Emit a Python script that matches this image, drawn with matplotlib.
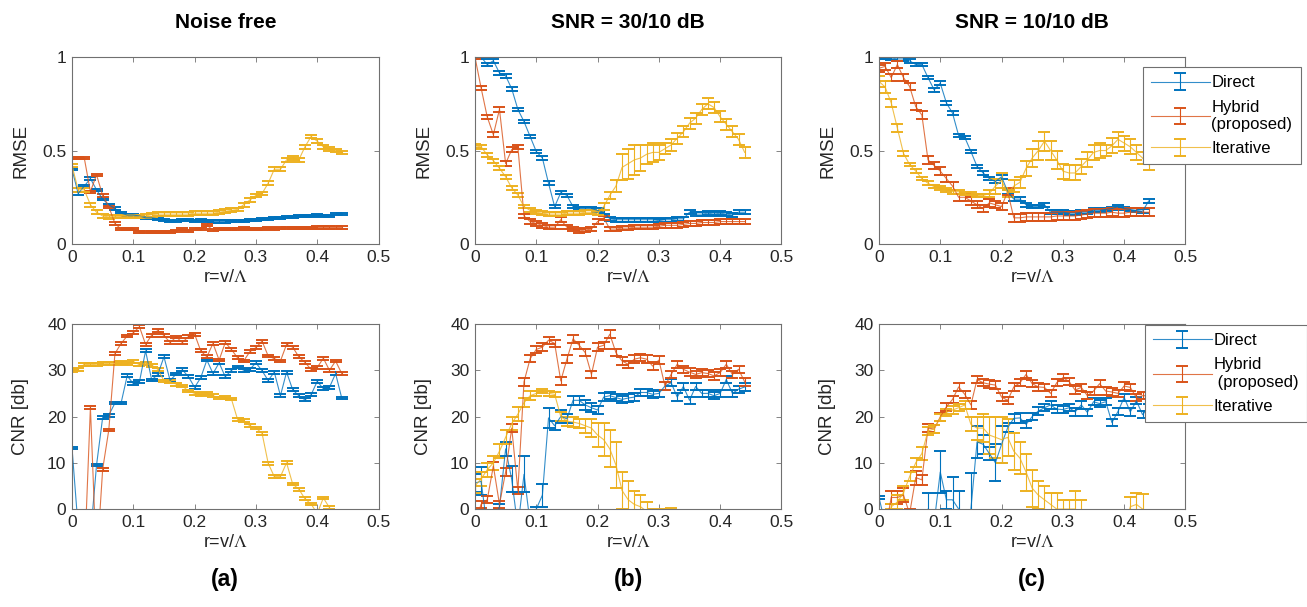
import numpy as np
import matplotlib.pyplot as plt

plt.rcParams['font.family'] = ['Liberation Sans', 'DejaVu Sans']
plt.rcParams['mathtext.fontset'] = 'stix'

# Sampling of r = v / Lambda
r_values = [0.00, 0.01, 0.02, 0.03, 0.04, 0.05, 0.06, 0.07, 0.08, 0.09,
            0.10, 0.11, 0.12, 0.13, 0.14, 0.15, 0.16, 0.17, 0.18, 0.19,
            0.20, 0.21, 0.22, 0.23, 0.24, 0.25, 0.26, 0.27, 0.28, 0.29,
            0.30, 0.31, 0.32, 0.33, 0.34, 0.35, 0.36, 0.37, 0.38, 0.39,
            0.40, 0.41, 0.42, 0.43, 0.44]

column_titles = ['Noise free', 'SNR = 30/10 dB', 'SNR = 10/10 dB']
panel_labels = ['(a)', '(b)', '(c)']
method_names_rmse = ['Direct', 'Hybrid\n(proposed)', 'Iterative']
method_names_cnr = ['Direct', 'Hybrid\n (proposed)', 'Iterative']
colors = ['#0072BD', '#D95319', '#EDB120']

# ---------------- RMSE, noise free ----------------
rmse_a_direct = [0.40, 0.27, 0.31, 0.35, 0.29, 0.24, 0.21, 0.19, 0.165, 0.155,
                 0.155, 0.15, 0.14, 0.14, 0.135, 0.13, 0.125, 0.125, 0.13, 0.13,
                 0.125, 0.13, 0.125, 0.12, 0.12, 0.12, 0.125, 0.125, 0.125, 0.13,
                 0.13, 0.135, 0.135, 0.14, 0.14, 0.145, 0.145, 0.15, 0.15, 0.15,
                 0.155, 0.15, 0.15, 0.16, 0.16]
rmse_a_hybrid = [0.46, 0.46, 0.46, 0.28, 0.37, 0.26, 0.20, 0.11, 0.08, 0.08,
                 0.08, 0.066, 0.063, 0.063, 0.063, 0.063, 0.063, 0.07, 0.08, 0.07,
                 0.08, 0.08, 0.10, 0.075, 0.08, 0.08, 0.08, 0.08, 0.085, 0.08,
                 0.08, 0.08, 0.085, 0.08, 0.085, 0.085, 0.085, 0.085, 0.085, 0.085,
                 0.088, 0.088, 0.088, 0.088, 0.088]
rmse_a_iterative = [0.42, 0.29, 0.29, 0.21, 0.17, 0.15, 0.145, 0.147, 0.147, 0.147,
                    0.147, 0.147, 0.15, 0.157, 0.16, 0.16, 0.16, 0.16, 0.16, 0.16,
                    0.165, 0.165, 0.165, 0.165, 0.17, 0.175, 0.18, 0.185, 0.21, 0.235,
                    0.26, 0.27, 0.325, 0.40, 0.40, 0.45, 0.46, 0.45, 0.52, 0.575,
                    0.55, 0.52, 0.51, 0.50, 0.49]
rmse_a_err = [0.006, 0.006, 0.01]

# ---------------- RMSE, SNR = 30/10 dB ----------------
rmse_b_direct = [1.0, 1.0, 0.96, 0.98, 0.915, 0.90, 0.83, 0.72, 0.655, 0.575,
                 0.495, 0.46, 0.325, 0.20, 0.275, 0.26, 0.20, 0.19, 0.19, 0.19,
                 0.18, 0.17, 0.135, 0.13, 0.13, 0.13, 0.13, 0.13, 0.13, 0.13,
                 0.125, 0.13, 0.13, 0.135, 0.135, 0.17, 0.16, 0.16, 0.165, 0.16,
                 0.165, 0.16, 0.155, 0.17, 0.17]
rmse_b_hybrid = [1.0, 0.835, 0.68, 0.585, 0.72, 0.43, 0.505, 0.52, 0.15, 0.12,
                 0.11, 0.10, 0.09, 0.09, 0.13, 0.09, 0.08, 0.07, 0.075, 0.08,
                 0.12, 0.14, 0.08, 0.08, 0.085, 0.085, 0.09, 0.09, 0.09, 0.09,
                 0.095, 0.10, 0.10, 0.10, 0.105, 0.11, 0.11, 0.115, 0.115, 0.115,
                 0.12, 0.12, 0.12, 0.12, 0.12]
rmse_b_iterative = [0.525, 0.52, 0.477, 0.446, 0.405, 0.36, 0.30, 0.262, 0.20, 0.18,
                    0.17, 0.165, 0.16, 0.16, 0.16, 0.165, 0.165, 0.165, 0.17, 0.17,
                    0.165, 0.20, 0.26, 0.31, 0.41, 0.43, 0.45, 0.46, 0.48, 0.49,
                    0.49, 0.51, 0.53, 0.566, 0.60, 0.646, 0.673, 0.72, 0.75, 0.73,
                    0.68, 0.64, 0.60, 0.56, 0.49]
rmse_b_iterative_err = [0.01, 0.01, 0.01, 0.01, 0.01, 0.01, 0.01, 0.01, 0.01, 0.01,
                        0.01, 0.01, 0.01, 0.01, 0.01, 0.01, 0.01, 0.01, 0.01, 0.01,
                        0.01, 0.02, 0.02, 0.03, 0.07, 0.08, 0.08, 0.07, 0.05, 0.05,
                        0.04, 0.03, 0.03, 0.03, 0.03, 0.03, 0.03, 0.03, 0.03, 0.03,
                        0.03, 0.03, 0.03, 0.03, 0.03]
rmse_b_err = [0.01, 0.012, rmse_b_iterative_err]

# ---------------- RMSE, SNR = 10/10 dB ----------------
rmse_c_direct = [1.0, 1.0, 0.995, 0.99, 0.99, 0.98, 0.96, 0.96, 0.89, 0.825,
                 0.86, 0.755, 0.70, 0.58, 0.57, 0.495, 0.415, 0.38, 0.35, 0.334,
                 0.36, 0.28, 0.24, 0.24, 0.21, 0.20, 0.20, 0.21, 0.17, 0.17,
                 0.17, 0.165, 0.165, 0.17, 0.17, 0.18, 0.18, 0.185, 0.19, 0.20,
                 0.19, 0.185, 0.18, 0.175, 0.23]
rmse_c_hybrid = [0.94, 0.95, 0.89, 0.96, 0.89, 0.843, 0.735, 0.69, 0.45, 0.42,
                 0.39, 0.35, 0.31, 0.25, 0.25, 0.23, 0.21, 0.19, 0.22, 0.21,
                 0.20, 0.28, 0.14, 0.14, 0.145, 0.145, 0.145, 0.145, 0.145, 0.15,
                 0.15, 0.15, 0.15, 0.155, 0.16, 0.165, 0.165, 0.165, 0.17, 0.165,
                 0.165, 0.17, 0.17, 0.17, 0.17]
rmse_c_iterative = [0.87, 0.84, 0.755, 0.62, 0.485, 0.425, 0.39, 0.35, 0.325, 0.307,
                    0.30, 0.29, 0.28, 0.28, 0.27, 0.27, 0.26, 0.26, 0.27, 0.31,
                    0.34, 0.27, 0.31, 0.33, 0.405, 0.46, 0.50, 0.55, 0.50, 0.45,
                    0.39, 0.38, 0.38, 0.415, 0.45, 0.49, 0.50, 0.50, 0.525, 0.56,
                    0.54, 0.52, 0.49, 0.46, 0.425]
rmse_c_iterative_err = [0.03, 0.03, 0.02, 0.02, 0.015, 0.01, 0.01, 0.01, 0.01, 0.01,
                        0.01, 0.01, 0.01, 0.01, 0.01, 0.01, 0.01, 0.01, 0.02, 0.04,
                        0.04, 0.02, 0.03, 0.03, 0.04, 0.05, 0.05, 0.05, 0.05, 0.05,
                        0.04, 0.04, 0.04, 0.04, 0.04, 0.04, 0.04, 0.03, 0.04, 0.04,
                        0.04, 0.04, 0.04, 0.03, 0.03]
rmse_c_err = [0.01, 0.02, rmse_c_iterative_err]

# ---------------- CNR, noise free ----------------
cnr_a_direct = [13.2, -4, -12, -6, 9.5, 19.8, 20.3, 22.9, 22.9, 28.8,
                27.1, 27.5, 34.2, 27.9, 29.1, 32.9, 27.8, 29.2, 30.1, 28.6,
                26.3, 28.4, 32.2, 29.3, 31.6, 28.6, 30.0, 30.7, 30.0, 30.2,
                31.6, 29.9, 27.8, 29.6, 24.5, 29.6, 25.8, 24.5, 23.6, 24.7,
                27.6, 26.0, 26.3, 29.3, 24.0]
cnr_a_hybrid = [-20, -20, -12, 22, -12, 8.6, 17.1, 33.6, 35.8, 37.4,
                38.1, 39.4, 35.6, 37.6, 38.6, 37.5, 36.0, 37.2, 36.0, 37.3,
                37.8, 34.2, 32.9, 35.8, 32.2, 36.0, 34.5, 32.7, 32.0, 34.0,
                34.9, 36.3, 33.1, 32.5, 32.0, 35.6, 35.0, 32.9, 31.7, 30.2,
                30.6, 32.6, 30.0, 32.0, 29.3]
cnr_a_iterative = [30.0, 30.2, 31.3, 31.2, 31.3, 31.4, 31.5, 31.5, 31.6, 31.5,
                   31.9, 31.2, 31.5, 31.1, 30.2, 27.7, 27.5, 27.0, 26.6, 25.5,
                   25.0, 24.7, 24.9, 24.5, 24.0, 24.1, 23.8, 19.4, 19.1, 18.0,
                   17.5, 16.4, 9.9, 7.0, 7.0, 10.0, 5.4, 4.3, 2.2, 1.1,
                   -1.0, 2.4, 0.3, -3, -6]
cnr_a_err = [0.3, 0.3, 0.3]

# ---------------- CNR, SNR = 30/10 dB ----------------
cnr_b_direct = [5.6, 6.0, -4, -3, 0.5, 13.0, 6.4, -4, 7.5, -3,
                0.0, 3.0, 19.7, 18.0, 20.0, 19.5, 23.5, 23.5, 22.5, 21.9,
                21.4, 24.2, 24.5, 24.1, 23.7, 24.0, 24.2, 25.2, 25.2, 24.8,
                25.0, 26.6, 27.3, 24.2, 26.5, 23.5, 26.5, 25.0, 25.0, 24.5,
                25.0, 28.0, 25.0, 25.9, 26.4]
cnr_b_direct_err = [2, 3, 2, 2, 0.5, 1.6, 2.8, 2, 3.9, 2,
                    0.5, 2.5, 2.1, 1, 1.5, 1, 1, 1, 1, 1,
                    0.8, 0.8, 0.8, 0.8, 0.8, 0.8, 0.8, 0.8, 0.8, 0.8,
                    0.8, 0.8, 0.8, 0.8, 0.8, 0.8, 0.8, 0.8, 0.8, 0.8,
                    0.8, 0.8, 0.8, 0.8, 0.8]
cnr_b_hybrid = [-3, 1.0, 2.0, 9.3, 1.0, 8.0, 17.5, 4.0, 27.5, 32.5,
                34.5, 35.0, 36.5, 35.8, 27.7, 32.4, 36.8, 35.4, 33.8, 29.1,
                35.0, 35.4, 37.8, 33.8, 32.0, 31.3, 32.4, 32.7, 32.4, 30.9,
                32.2, 26.6, 29.1, 31.3, 30.2, 29.6, 29.1, 29.5, 29.3, 28.8,
                29.5, 31.3, 29.1, 30.2, 27.5]
cnr_b_iterative = [5.0, 6.5, 8.5, 10.0, 12.5, 15.5, 18.5, 20.5, 23.0, 24.5,
                   25.0, 25.5, 25.0, 24.8, 20.0, 19.0, 18.8, 18.5, 18.0, 17.5,
                   16.0, 15.0, 13.0, 9.5, 4.0, 2.0, 1.0, 0.5, -0.5, -2,
                   -4, -1.5, 0.0, -5, -5, -5, -5, -5, -5, -5,
                   -5, -5, -5, -5, -5]
cnr_b_iterative_err = [1.5, 1.5, 1.5, 1.5, 1.5, 1.5, 1.5, 1.5, 1, 1,
                       0.6, 0.5, 0.5, 0.5, 1, 1, 1, 1, 1.5, 2,
                       2.5, 3.5, 4, 5, 4, 4, 3, 2.5, 2, 2,
                       2, 1.5, 0.3, 0, 0, 0, 0, 0, 0, 0,
                       0, 0, 0, 0, 0]
cnr_b_err = [cnr_b_direct_err, 0.8, cnr_b_iterative_err]

# ---------------- CNR, SNR = 10/10 dB ----------------
cnr_c_direct = [2.5, -3, -5, -5, -5, -5, -5, -5, 0.0, -3,
                8.0, 2.0, 2.0, 0.0, -5, 0.0, 14.5, 14.0, 12.0, 10.0,
                14.0, 17.6, 19.6, 19.7, 18.3, 20.0, 21.2, 21.9, 22.5, 21.6,
                21.5, 21.9, 21.0, 22.5, 20.9, 23.2, 22.8, 23.2, 18.7, 21.1,
                24.1, 21.0, 23.4, 20.4, 22.0]
cnr_c_direct_err = [0.3, 0, 0, 0, 0, 0, 0, 0, 3.4, 0,
                    4.5, 2, 5, 4, 0, 7.7, 3.5, 2, 1.5, 4,
                    4, 1, 1, 1, 0.8, 0.8, 0.8, 0.8, 0.8, 0.8,
                    0.8, 0.8, 0.8, 0.8, 0.8, 0.8, 0.8, 0.8, 0.8, 0.8,
                    0.8, 0.8, 0.8, 0.8, 0.8]
cnr_c_hybrid = [-5, -5, 2.5, 2.5, 3.0, -1, 6.8, 6.3, 17.5, 17.3,
                19.9, 22.1, 23.7, 26.4, 24.8, 22.5, 28.0, 27.3, 27.0, 26.8,
                24.2, 23.5, 26.4, 27.3, 29.1, 27.1, 26.4, 26.3, 25.0, 27.3,
                28.4, 27.6, 25.7, 26.3, 24.5, 25.5, 27.1, 25.5, 25.3, 25.0,
                26.6, 26.3, 24.1, 24.5, 24.5]
cnr_c_hybrid_err = [0, 0, 1.5, 1.5, 1.5, 1, 1.5, 1, 0.8, 0.8,
                    0.8, 0.8, 0.8, 0.8, 0.8, 0.8, 0.8, 0.8, 0.8, 0.8,
                    0.8, 0.8, 0.8, 0.8, 0.8, 0.8, 0.8, 0.8, 0.8, 0.8,
                    0.8, 0.8, 0.8, 0.8, 0.8, 0.8, 0.8, 0.8, 0.8, 0.8,
                    0.8, 0.8, 0.8, 0.8, 0.8]
cnr_c_iterative = [-5, -5, 0.5, 1.5, 3.5, 7.0, 10.0, 12.0, 16.9, 17.3,
                   19.8, 20.9, 21.4, 21.9, 22.5, 18.3, 17.5, 17.5, 16.0, 15.5,
                   15.0, 15.5, 12.5, 11.0, 8.0, 4.5, 3.0, 2.0, 1.0, 0.0,
                   0.0, 0.0, 0.0, -1, -5, -5, -5, -5, -5, -5,
                   -5, 0.5, 1.0, 0.0, -5]
cnr_c_iterative_err = [0, 0, 0.5, 1.5, 1.5, 1, 1, 1.5, 0.8, 0.8,
                       0.8, 0.8, 0.8, 0.8, 0.8, 1.5, 2.5, 3, 4, 4.5,
                       5, 4, 4, 3.5, 4, 4, 3, 3, 2.5, 3.5,
                       2, 2, 4, 3, 0, 0, 0, 0, 0, 0,
                       0, 2, 2.5, 3.3, 0]
cnr_c_err = [cnr_c_direct_err, cnr_c_hybrid_err, cnr_c_iterative_err]

rmse_series = [[rmse_a_direct, rmse_a_hybrid, rmse_a_iterative],
               [rmse_b_direct, rmse_b_hybrid, rmse_b_iterative],
               [rmse_c_direct, rmse_c_hybrid, rmse_c_iterative]]
rmse_errors = [rmse_a_err, rmse_b_err, rmse_c_err]
cnr_series = [[cnr_a_direct, cnr_a_hybrid, cnr_a_iterative],
              [cnr_b_direct, cnr_b_hybrid, cnr_b_iterative],
              [cnr_c_direct, cnr_c_hybrid, cnr_c_iterative]]
cnr_errors = [cnr_a_err, cnr_b_err, cnr_c_err]


def draw_panel(ax, series, errors, names, ylim, yticks, yticklabels, ylabel):
    """
    Draws the three error-bar curves of one panel in MATLAB-like style.
    """
    handles = []
    for values, err, color, name in zip(series, errors, colors, names):
        h = ax.errorbar(r_values, values, yerr=err, color=color, lw=0.8,
                        elinewidth=0.8, capsize=4.5, capthick=1.4, label=name)
        # thin connecting lines look lighter than the caps in the original
        h.lines[0].set_alpha(0.8)
        handles.append(h)

    ax.set_xlim(0, 0.5)
    ax.set_ylim(*ylim)
    ax.set_xticks([0, 0.1, 0.2, 0.3, 0.4, 0.5])
    ax.set_xticklabels(['0', '0.1', '0.2', '0.3', '0.4', '0.5'])
    ax.set_yticks(yticks)
    ax.set_yticklabels(yticklabels)
    ax.tick_params(direction='in', top=True, right=True, length=3.5, width=0.6,
                   colors='#707070', labelcolor='#262626', labelsize=12.5, pad=4)
    for spine in ax.spines.values():
        spine.set_color('#707070')
        spine.set_linewidth(0.8)
    ax.set_xlabel(r'r=v/$\Lambda$', fontsize=13, color='#262626', labelpad=3)
    ax.set_ylabel(ylabel, fontsize=13.5, color='#262626')
    ax.yaxis.set_label_coords(-0.14, 0.5)
    return handles


fig = plt.figure(figsize=(13.07, 6.07), dpi=100)

col_left = [0.0551, 0.3634, 0.6725]
col_width = 0.2345

for i in range(3):
    ax_top = fig.add_axes([col_left[i], 0.598, col_width, 0.308])
    h_top = draw_panel(ax_top, rmse_series[i], rmse_errors[i], method_names_rmse,
                       (0, 1), [0, 0.5, 1], ['0', '0.5', '1'], 'RMSE')

    ax_bot = fig.add_axes([col_left[i], 0.1614, col_width, 0.3048])
    h_bot = draw_panel(ax_bot, cnr_series[i], cnr_errors[i], method_names_cnr,
                       (0, 40), [0, 10, 20, 30, 40], ['0', '10', '20', '30', '40'], 'CNR [db]')

    xc = col_left[i] + col_width / 2
    fig.text(xc, 0.963, column_titles[i], ha='center', va='center',
             fontsize=15, fontweight='bold')
    fig.text(xc, 0.045, panel_labels[i], ha='center', va='center',
             fontsize=16.5, fontweight='bold')

    if i == 2:
        for handles, names, anchor in [(h_top, method_names_rmse, (0.8745, 0.8896)),
                                       (h_bot, method_names_cnr, (0.876, 0.4646))]:
            leg = fig.legend(handles, names, loc='upper left', bbox_to_anchor=anchor,
                             bbox_transform=fig.transFigure, borderaxespad=0,
                             fontsize=12, handlelength=3.5, handletextpad=0.1,
                             labelspacing=0.55, borderpad=0.5, fancybox=False,
                             framealpha=1, edgecolor='#707070')
            leg.get_frame().set_linewidth(0.8)

plt.savefig('out.png', dpi=100)
